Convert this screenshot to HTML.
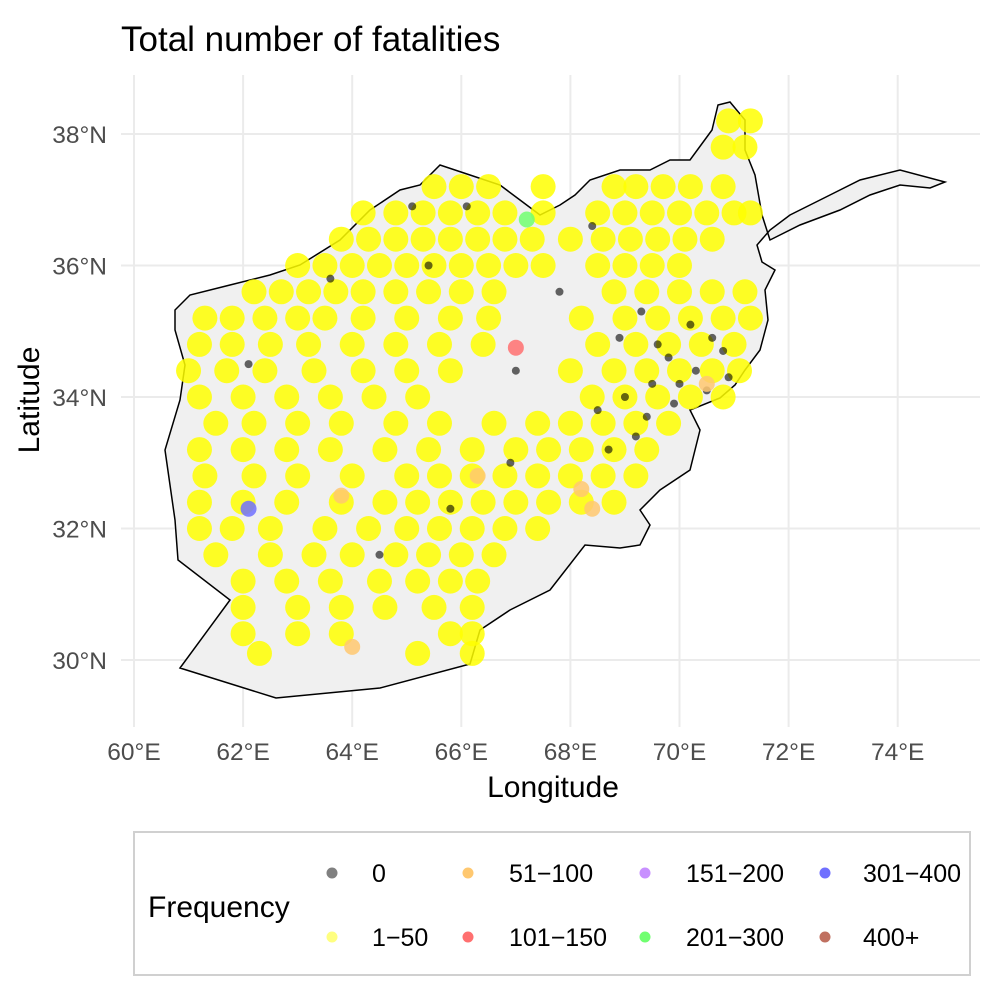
<!DOCTYPE html>
<html><head><meta charset="utf-8"><style>
body{margin:0;background:#fff;}
svg text{font-family:"Liberation Sans",sans-serif;}
</style></head><body>
<svg id="chart" width="1000" height="1000" xmlns="http://www.w3.org/2000/svg">
<rect width="1000" height="1000" fill="#fff"/>
<g id="grid"></g>
<g id="map"></g>
<g id="pts"></g>
<g id="axes"></g>
<text x="121" y="51" font-size="35" fill="#000">Total number of fatalities</text>
<text x="553" y="797" font-size="30" text-anchor="middle">Longitude</text>
<text transform="translate(39,400) rotate(-90)" font-size="30" text-anchor="middle">Latitude</text>
<g>
<rect x="134" y="832" width="836" height="143" fill="#fff" stroke="#d0d0d0" stroke-width="2"/>
<text x="148" y="917" font-size="30">Frequency</text>
<g id="legend-items"></g>
</g>
</svg>
<script>
const lonTicks=[60,62,64,66,68,70,72,74];
const latTicks=[30,32,34,36,38];
const outlinePx=[[180,668],[276,698],[380,688],[470,664],[480,630],[510,610],[550,590],[585,545],[620,548],[640,545],[650,525],[640,510],[660,490],[690,470],[700,430],[690,410],[720,398],[735,385],[745,370],[760,350],[768,320],[765,290],[775,270],[762,262],[757,245],[770,230],[790,215],[810,205],[830,195],[860,180],[900,170],[945,182],[930,188],[900,185],[870,195],[840,210],[800,225],[770,240],[762,215],[755,175],[745,150],[745,120],[730,102],[718,105],[712,130],[690,160],[670,160],[650,170],[620,170],[590,180],[575,195],[560,205],[540,215],[520,200],[500,185],[470,175],[440,165],[420,185],[400,190],[370,210],[340,240],[300,265],[270,275],[230,285],[190,295],[175,310],[175,330],[185,365],[180,400],[165,450],[175,520],[178,560],[230,600],[180,668]];
const yellowLat=[38.2,37.8,37.2,36.8,36.4,36.0,35.6,35.2,34.8,34.4,34.0,33.6,33.2,32.8,32.4,32.0,31.6,31.2,30.8,30.4,30.1];
const yellowLon=[[70.9,71.3],[70.8,71.2],[65.5,66,66.5,67.5,68.8,69.2,69.7,70.2,70.8],[64.2,64.8,65.3,65.8,66.3,66.8,67.5,68.5,69,69.5,70,70.5,71,71.3],[63.8,64.3,64.8,65.3,65.8,66.3,66.8,67.3,68,68.6,69.1,69.6,70.1,70.6],[63,63.5,64,64.5,65,65.5,66,66.5,67,67.5,68.5,69,69.5,70],[62.2,62.7,63.2,63.7,64.2,64.8,65.4,66,66.6,68.8,69.4,70,70.6,71.2],[61.3,61.8,62.4,63,63.5,64.2,65,65.8,66.5,68.2,69,69.6,70.2,70.8,71.3],[61.2,61.8,62.5,63.2,64,64.8,65.6,66.4,68.5,69.2,69.8,70.4,71],[61,61.7,62.4,63.3,64.2,65,65.8,68,68.8,69.4,70,70.6,71.1],[61.2,62,62.8,63.6,64.4,65.2,68.4,69,69.6,70.2,70.8],[61.5,62.2,63,63.8,64.8,65.6,66.6,67.4,68,68.6,69.2,69.8],[61.2,62,62.8,63.6,64.6,65.4,66.2,67,67.6,68.2,68.8,69.4],[61.3,62.2,63,64,65,65.6,66.2,66.8,67.4,68,68.6,69.2],[61.2,62,62.8,63.8,64.6,65.2,65.8,66.4,67,67.6,68.2,68.8],[61.2,61.8,62.5,63.5,64.3,65,65.6,66.2,66.8,67.4],[61.5,62.5,63.3,64,64.8,65.4,66,66.6],[62,62.8,63.6,64.5,65.2,65.8,66.3],[62,63,63.8,64.6,65.5,66.2],[62,63,63.8,65.8,66.2],[62.3,65.2,66.2]];
const blackLon=[69.5,70,70.5,69.8,70.8,69.2,65.4,67,68.9,69.3,70.2,64.5,63.6,62.1,65.8,66.9,68.4,69.0,69.4,70.3,70.6,69.6,68.7,68.5,69.9,70.9,67.8,66.1,65.1];
const blackLat=[34.2,34.2,34.1,34.6,34.7,33.4,36.0,34.4,34.9,35.3,35.1,31.6,35.8,34.5,32.3,33.0,36.6,34.0,33.7,34.4,34.9,34.8,33.2,33.8,33.9,34.3,35.6,36.9,36.9];
const bigLon=[67.0,62.1,64.0,63.8,68.4,70.5,66.3,67.2,68.2];
const bigLat=[34.75,32.3,30.2,32.5,32.3,34.2,32.8,36.7,32.6];
const bigCat=["101-150","301-400","51-100","51-100","51-100","51-100","51-100","201-300","51-100"];
const catColors={"0":"#808080","1-50":"#ffff80","51-100":"#ffc870","101-150":"#ff7070","151-200":"#c890ff","201-300":"#70ff70","301-400":"#7070ff","400+":"#c07060"};
const legendLabels=["0","1\u221250","51\u2212100","101\u2212150","151\u2212200","201\u2212300","301\u2212400","400+"];
const legendKeys=["0","1-50","51-100","101-150","151-200","201-300","301-400","400+"];
const NS="http://www.w3.org/2000/svg";
const xS=lon=>134+(lon-60)*54.55;
const yS=lat=>134+(38-lat)*65.75;
const lonP=px=>60+(px-134)/54.55, latP=py=>38-(py-134)/65.75;
function mk(t,a,p){const e=document.createElementNS(NS,t);for(const k in a)e.setAttribute(k,a[k]);p.appendChild(e);return e;}
const grid=document.getElementById('grid');
lonTicks.forEach(v=>{const l=mk('line',{x1:xS(v),x2:xS(v),y1:75,y2:727,stroke:'#ebebeb','stroke-width':2},grid);

});
latTicks.forEach(v=>{const l=mk('line',{x1:121,x2:980,y1:yS(v),y2:yS(v),stroke:'#ebebeb','stroke-width':2},grid);

});
const axes=document.getElementById('axes');
lonTicks.forEach(v=>{const t=mk('text',{x:xS(v),y:760,'font-size':24.5,fill:'#4d4d4d','text-anchor':'middle'},axes);t.textContent=v+'°E';

});
latTicks.forEach(v=>{const t=mk('text',{x:107,y:yS(v)+9,'font-size':24.5,fill:'#4d4d4d','text-anchor':'end'},axes);t.textContent=v+'°N';

});
const map=document.getElementById('map');
const poly=mk('polygon',{points:outlinePx.map(p=>xS(lonP(p[0]))+','+yS(latP(p[1]))).join(' '),fill:'#f0f0f0',stroke:'#000','stroke-width':1.5},map);


const pts=document.getElementById('pts');
yellowLat.forEach((lat,i)=>yellowLon[i].forEach(lon=>{const c=mk('circle',{cx:xS(lon),cy:yS(lat),r:12.5,fill:'#ffff00','fill-opacity':0.85},pts);

}));
blackLon.forEach((lon,i)=>{const c=mk('circle',{cx:xS(lon),cy:yS(blackLat[i]),r:4,fill:'#000','fill-opacity':0.6},pts);

});
bigLon.forEach((lon,i)=>{const c=mk('circle',{cx:xS(lon),cy:yS(bigLat[i]),r:8,fill:catColors[bigCat[i]],'fill-opacity':0.85},pts);

});
const li=document.getElementById('legend-items');
legendKeys.forEach((k,i)=>{const col=Math.floor(i/2),row=i%2;const cx=[332,468,645,825][col];const y=row?937:873;
const c=mk('circle',{cx:cx,cy:y,r:5.5,fill:catColors[k]},li);


const t=mk('text',{x:[372,509,686,863][col],y:y+9,'font-size':25},li);t.textContent=legendLabels[i];

});
</script>
</body></html>
